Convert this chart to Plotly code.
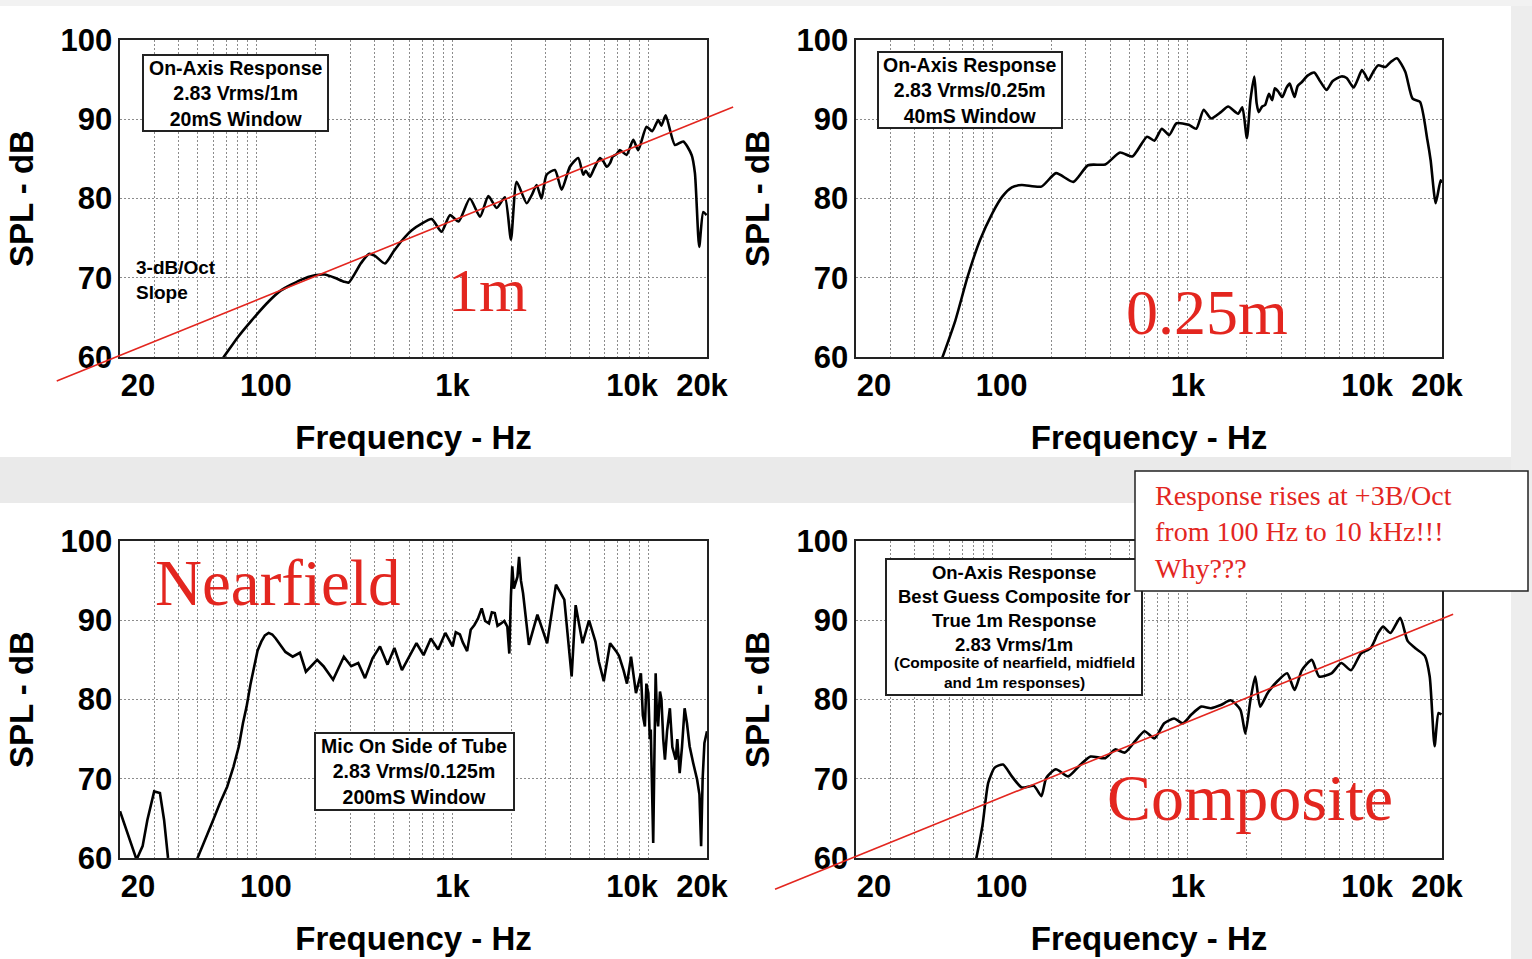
import math
import plotly.graph_objects as go

W, H = 1532, 959

# ---------------- data ----------------
x_grid_hz = [20, 30, 40, 50, 60, 70, 80, 90,
             100, 200, 300, 400, 500, 600, 700, 800, 900,
             1000, 2000, 3000, 4000, 5000, 6000, 7000, 8000, 9000,
             10000, 20000]
x_tick_labels = {20: "20", 100: "100", 1000: "1k", 10000: "10k", 20000: "20k"}
y_ticks_db = [60, 70, 80, 90, 100]

# 1 m, 20 ms window
f_1m = [60, 67.8, 80, 94, 115, 133, 167, 198, 222, 250, 279, 295, 340, 374, 400, 452, 500, 552, 620, 693,
        783, 880, 971, 1075, 1228, 1384, 1526, 1683, 1854, 1991, 2129, 2395, 2550, 2693, 2853, 3027, 3340,
        3614, 3984, 4394, 4659, 4800, 5046, 5300, 5676, 5900, 6139, 6400, 6600, 6900, 7180, 7764, 8397,
        8900, 9820, 10500, 11270, 11700, 12300, 13720, 15130, 16690, 17350, 18250, 19140, 19900]
spl_1m = [58.2, 60.0, 62.5, 64.6, 67.0, 68.4, 69.7, 70.3, 70.4, 70.0, 69.5, 69.4, 71.8, 73.0, 72.8, 71.8,
          73.3, 74.7, 76.0, 76.8, 77.4, 75.8, 77.9, 77.1, 80.0, 77.7, 80.3, 78.8, 80.15, 74.8, 82.1, 79.4,
          80.5, 81.7, 80.0, 83.0, 83.6, 81.1, 84.0, 85.1, 83.0, 83.5, 82.75, 83.8, 85.1, 84.7, 84.0, 84.5,
          85.3, 85.6, 86.1, 85.5, 87.4, 86.1, 89.05, 88.5, 89.9, 89.2, 90.5, 86.75, 87.2, 85.5, 83.2, 73.9,
          78.3, 77.9]

# 0.25 m, 40 ms window
f_025 = [50, 55.1, 64.5, 74.5, 86.1, 99.6, 111.9, 125.6, 141, 177.8, 211.4, 259.3, 308.3, 377.6, 449.5,
         520, 618, 674, 736, 802, 875, 1011, 1104, 1205, 1313, 1475, 1608, 1807, 1900, 2005, 2090, 2188,
         2250, 2304, 2400, 2485, 2600, 2700, 2789, 2900, 3042, 3200, 3320, 3420, 3518, 3650, 3836, 4100,
         4437, 4700, 5128, 5500, 6100, 6500, 7050, 7400, 7780, 8100, 8390, 8900, 9420, 10280,
         10900, 11750, 12970, 14140, 15420, 16830, 17500, 18570, 19680, 20000]
spl_025 = [57.0, 59.8, 64.6, 70.1, 74.7, 78.1, 80.2, 81.4, 81.7, 81.5, 83.2, 82.1, 84.2, 84.3, 85.8, 85.3,
           87.8, 87.3, 88.8, 88.0, 89.5, 89.3, 88.8, 91.2, 90.1, 90.9, 91.6, 90.7, 91.5, 87.6, 92.4, 95.4,
           92.0, 90.9, 91.6, 91.8, 93.2, 92.4, 93.9, 93.5, 92.8, 94.0, 94.5, 93.6, 92.8, 94.2, 94.7, 95.5,
           95.9, 95.0, 93.7, 94.8, 95.4, 95.2, 94.0, 95.0, 96.2, 95.6, 94.9, 96.0, 96.8, 96.6,
           97.2, 97.7, 96.0, 92.6, 92.2, 87.4, 84.8, 79.4, 82.3, 82.0]

# Nearfield, mic on side of tube
f_nf = [20, 22.7, 24.3, 26.1, 27.6, 29.9, 32.0, 33.6, 35.2, 40, 45, 49.8, 55, 59.9, 65, 70.6, 76, 81.0, 85,
        88.7, 93, 96.9, 101, 105.5, 110, 115, 120, 125, 140.1, 152.6, 166.2, 178.3, 203.5, 219.3, 245.5,
        278.7, 303.7, 330, 357.4, 390.5, 426.4, 466, 505, 552, 602, 655, 712, 776, 845, 920, 1002, 1040,
        1092, 1130, 1189, 1240, 1295, 1350, 1411, 1470, 1537, 1590, 1646, 1700, 1772, 1840, 1908, 1953,
        1990, 2022, 2060, 2105, 2150, 2191, 2240, 2296, 2459, 2718, 3048, 3382, 3731, 4067, 4263, 4623,
        4992, 5381, 5600, 5935, 6393, 6864, 7100, 7488, 7800, 8182, 8669, 9190, 9400, 9630, 9800, 10030,
        10200, 10320, 10620, 10800, 10930, 11100, 11250, 11500, 11700, 11950, 12190, 12500, 12920, 13300,
        13840, 14100, 14500, 14900, 15370, 15800, 16300, 17000, 17800, 18300, 18660, 19000, 19400, 20000]
spl_nf = [65.9, 61.9, 59.8, 61.5, 64.8, 68.4, 68.2, 64.8, 60.0, 52, 53, 60.0, 62.5, 64.8, 67.0, 69.0, 71.5,
          74.1, 77.0, 79.1, 82.0, 84.2, 86.2, 87.3, 88.1, 88.4, 88.2, 87.7, 86.0, 85.4, 85.9, 83.5, 85.0,
          84.2, 82.5, 85.4, 84.2, 84.6, 82.7, 85.2, 86.7, 84.4, 86.5, 83.7, 85.4, 87.1, 85.6, 87.7, 86.3,
          88.4, 86.7, 88.5, 88.2, 87.2, 86.1, 88.8, 89.4, 90.2, 91.5, 89.9, 89.6, 91.0, 90.9, 89.3, 89.6,
          89.9, 89.2, 85.8, 93.0, 96.8, 94.0, 94.7, 95.5, 98.0, 95.0, 93.4, 86.9, 90.7, 87.1, 94.5, 92.6,
          82.9, 91.9, 87.1, 90.0, 87.3, 84.8, 82.3, 87.1, 86.1, 85.5, 83.7, 82.0, 85.4, 80.8, 83.3, 78.0,
          76.6, 82.0, 80.8, 75.0, 76.2, 61.9, 75.0, 83.3, 78.0, 76.6, 81.0, 80.0, 75.0, 72.4, 76.0, 78.9,
          74.0, 72.4, 75.0, 70.7, 74.0, 78.9, 77.0, 74.1, 72.0, 69.9, 68.0, 61.5, 70.0, 74.5, 76.0]

# Composite (best guess 1 m)
f_comp = [78, 82.3, 88.7, 95.1, 102.6, 113.2, 125.6, 141, 163, 177.8, 188.4, 211, 244, 282.5, 317.5, 377.8,
          424, 476, 535, 600, 674.5, 757, 850, 944, 1042, 1170, 1313, 1475, 1656, 1858, 1969, 2090, 2213,
          2345, 2558, 2871, 3222, 3518, 3836, 4308, 4700, 5432, 6100, 6845, 7690, 8630, 9420, 9980, 10890,
          12220, 13330, 14550, 16330, 17300, 18330, 19200, 19870]
spl_comp = [57.5, 59.8, 64.0, 69.5, 71.4, 71.8, 70.3, 68.9, 69.1, 67.8, 70.1, 71.2, 70.3, 71.8, 72.8, 72.6,
            73.7, 73.3, 74.7, 76.0, 75.1, 77.0, 77.6, 77.0, 78.1, 79.1, 78.9, 79.3, 79.9, 78.7, 75.7, 79.9,
            82.9, 79.1, 80.8, 82.3, 83.3, 81.2, 83.7, 85.0, 82.9, 83.3, 84.6, 83.7, 85.8, 86.5, 88.4, 89.2,
            88.4, 90.3, 87.4, 86.5, 85.5, 82.9, 74.1, 78.3, 78.1]

# +3 dB/oct reference slopes
slope_1m_hz = [9.5, 27200]
slope_1m_db = [56.97, 91.54]
slope_comp_hz = [7.7, 22800]
slope_comp_db = [56.05, 90.77]

# ---------------- layout geometry (pixels) ----------------
XL, XR = (120, 707), (856, 1442)
YT, YB = (40, 357), (541, 858)
F_MIN, F_MAX = 20, 20000
DB_MIN, DB_MAX = 60, 100
# pixel nudges of the x tick labels, as placed in the original artwork
label_shift_px = {20: 18, 100: 9, 1000: 0, 10000: -16, 20000: -5}


def px(x):
    return x / W


def py(y):
    return 1 - y / H


SANS = "Liberation Sans, Arial, sans-serif"
SERIF = "Liberation Serif, Times New Roman, serif"
RED = "#e3261f"

fig = go.Figure()

curves = [(f_1m, spl_1m, "x", "y", "spline"), (f_025, spl_025, "x2", "y2", "spline"),
          (f_nf, spl_nf, "x3", "y3", "linear"), (f_comp, spl_comp, "x4", "y4", "spline")]
for fx, fy, xa, ya, shp in curves:
    fig.add_trace(go.Scatter(x=fx, y=fy, xaxis=xa, yaxis=ya, mode="lines",
                             line=dict(color="black", width=2.6, shape=shp, smoothing=0.6),
                             hoverinfo="skip", showlegend=False))

for fx, fy, xa, ya in [(slope_1m_hz, slope_1m_db, "x5", "y5"),
                       (slope_comp_hz, slope_comp_db, "x6", "y6")]:
    fig.add_trace(go.Scatter(x=fx, y=fy, xaxis=xa, yaxis=ya, mode="lines",
                             line=dict(color=RED, width=1.6), hoverinfo="skip",
                             showlegend=False))

tick_font = dict(family=SANS, size=31, color="black", weight="bold")
title_font = dict(family=SANS, size=33, color="black", weight="bold")
X_RANGE = [math.log10(F_MIN), math.log10(F_MAX)]


def xaxis(dom, anchor):
    return dict(type="log", domain=[px(dom[0]), px(dom[1])], anchor=anchor, range=X_RANGE,
                tickmode="array", tickvals=x_grid_hz, ticktext=[""] * len(x_grid_hz), tickangle=0,
                showgrid=True, gridcolor="#8c8c8c", gridwidth=1, griddash="2px,2px",
                showline=True, mirror=True, linecolor="#222222", linewidth=1.6,
                ticks="", ticklabelstandoff=0, tickfont=tick_font, zeroline=False,
                title=dict(text="Frequency - Hz", font=title_font, standoff=62),
                automargin=False, fixedrange=True)


def yaxis(dom, anchor):
    return dict(domain=[py(dom[1]), py(dom[0])], anchor=anchor,
                range=[DB_MIN, DB_MAX], tickmode="array", tickvals=y_ticks_db,
                showgrid=True, gridcolor="#8c8c8c", gridwidth=1, griddash="2px,2px",
                showline=True, mirror=True, linecolor="#222222", linewidth=1.6,
                ticks="", ticklabelstandoff=0, tickfont=tick_font, zeroline=False,
                title=dict(text="SPL - dB", font=title_font, standoff=17),
                automargin=False, fixedrange=True)


def overlay_axes(xdom, ydom, ext):
    l, r, t, b = ext
    dec_px = (xdom[1] - xdom[0]) / math.log10(F_MAX / F_MIN)
    db_px = (ydom[1] - ydom[0]) / (DB_MAX - DB_MIN)
    xa = dict(type="log", visible=False, fixedrange=True,
              domain=[px(xdom[0] - l), px(xdom[1] + r)],
              range=[math.log10(F_MIN) - l / dec_px, math.log10(F_MAX) + r / dec_px])
    ya = dict(visible=False, fixedrange=True,
              domain=[py(ydom[1] + b), py(ydom[0] - t)],
              range=[DB_MIN - b / db_px, DB_MAX + t / db_px])
    return xa, ya


x5, y5 = overlay_axes(XL, YT, (75, 35, 10, 40))
x6, y6 = overlay_axes(XR, YB, (95, 25, 10, 45))
x5["anchor"], y5["anchor"] = "y5", "x5"
x6["anchor"], y6["anchor"] = "y6", "x6"

layout_axes = dict(
    xaxis=xaxis(XL, "y"), yaxis=yaxis(YT, "x"),
    xaxis2=xaxis(XR, "y2"), yaxis2=yaxis(YT, "x2"),
    xaxis3=xaxis(XL, "y3"), yaxis3=yaxis(YB, "x3"),
    xaxis4=xaxis(XR, "y4"), yaxis4=yaxis(YB, "x4"),
    xaxis5=x5, yaxis5=y5, xaxis6=x6, yaxis6=y6,
)

# label-only x axes overlaying each panel's frequency axis (one per tick label, so each can be nudged)
n = 7
for base_x, base_y in [("x", "y"), ("x2", "y2"), ("x3", "y3"), ("x4", "y4")]:
    for v, lab in x_tick_labels.items():
        layout_axes["xaxis%d" % n] = dict(
            type="log", overlaying=base_x, anchor=base_y, side="bottom", range=X_RANGE,
            tickmode="array", tickvals=[v], ticktext=[lab], tickangle=0,
            ticklabelshift=label_shift_px[v], ticklabelstandoff=7, ticks="",
            showgrid=False, showline=False, zeroline=False, tickfont=tick_font,
            automargin=False, fixedrange=True)
        # an empty trace registers the label axis as a drawn subplot
        fig.add_trace(go.Scatter(x=[], y=[], xaxis="x%d" % n, yaxis=base_y, mode="lines",
                                 hoverinfo="skip", showlegend=False))
        n += 1

fig.update_layout(
    width=W, height=H, margin=dict(l=0, r=0, t=0, b=0),
    paper_bgcolor="white", plot_bgcolor="rgba(0,0,0,0)",
    showlegend=False, **layout_axes,
)

shapes = []
# background page decoration
for (x0, y0, x1, y1, c) in [(0, 457, W, 503, "#eaeaea"), (1511, 0, W, H, "#ededed"),
                            (0, 0, W, 6, "#f2f2f2")]:
    shapes.append(dict(type="rect", xref="paper", yref="paper", x0=px(x0), x1=px(x1),
                       y0=py(y1), y1=py(y0), fillcolor=c, line=dict(width=0), layer="below"))
# text boxes
for (x0, y0, x1, y1, lw) in [(143, 55, 328, 131, 2), (878, 52, 1062, 128, 2), (315, 733, 514, 810, 2),
                             (886, 559, 1142, 695, 2), (1135, 471, 1528, 591, 1.5)]:
    shapes.append(dict(type="rect", xref="paper", yref="paper", x0=px(x0), x1=px(x1),
                       y0=py(y1), y1=py(y0), fillcolor="white",
                       line=dict(color="#222222", width=lw), layer="above"))
fig.update_layout(shapes=shapes)


def note(text, x, y, size, family=SANS, color="black", weight="bold", align="center", xanchor="center"):
    fig.add_annotation(text=text, x=px(x), y=py(y), xref="paper", yref="paper",
                       xanchor=xanchor, yanchor="middle", align=align, showarrow=False,
                       font=dict(family=family, size=size, color=color, weight=weight))


note("On-Axis Response<br>2.83 Vrms/1m<br>20mS Window", 235.5, 93, 19.5)
note("On-Axis Response<br>2.83 Vrms/0.25m<br>40mS Window", 970, 90, 19.5)
note("Mic On Side of Tube<br>2.83 Vrms/0.125m<br>200mS Window", 414.5, 771, 19.5)
note("On-Axis Response<br>Best Guess Composite for<br>True 1m Response<br>2.83 Vrms/1m", 1014, 608.5, 18.5)
note("(Composite of nearfield, midfield<br>and 1m responses)", 1014, 672, 15.5)
note("3-dB/Oct<br>Slope", 134, 280, 19, align="left", xanchor="left")
note("Response rises at +3B/Oct<br>from 100 Hz to 10 kHz!!!<br>Why???", 1153, 532, 28,
     family=SERIF, color=RED, weight="normal", align="left", xanchor="left")
note("1m", 487, 290, 62, family=SERIF, color=RED, weight="normal")
note("0.25m", 1207, 312, 64, family=SERIF, color=RED, weight="normal")
note("Nearfield", 277, 583, 65, family=SERIF, color=RED, weight="normal")
note("Composite", 1250, 797, 66, family=SERIF, color=RED, weight="normal")

fig.write_html("out.html", config={"displayModeBar": False, "staticPlot": True},
               post_script="document.body.style.margin='0';document.body.style.overflow='hidden';")
